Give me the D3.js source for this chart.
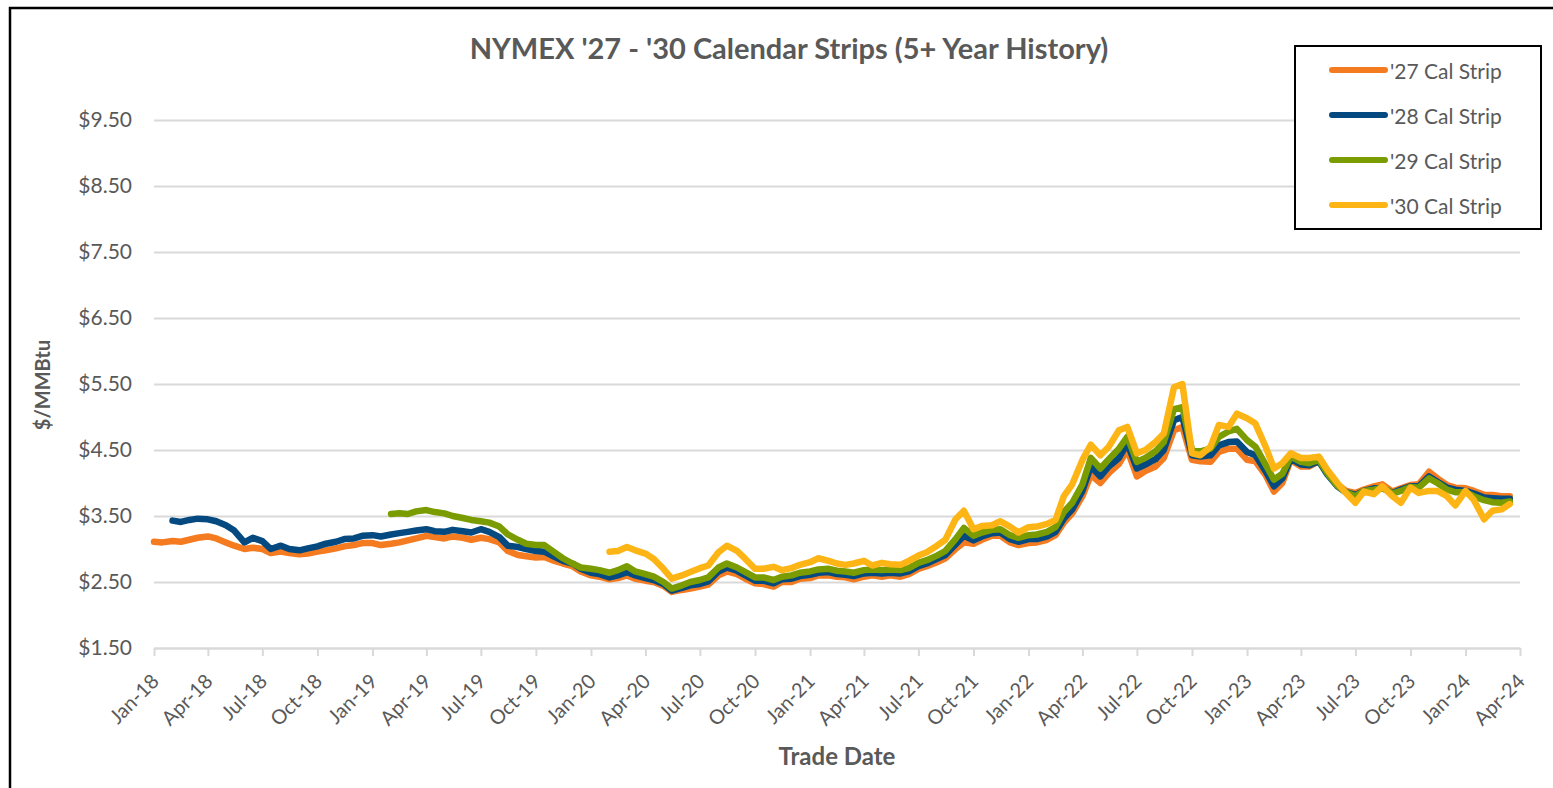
<!DOCTYPE html>
<html>
<head>
<meta charset="utf-8">
<script src="https://cdn.jsdelivr.net/npm/d3@7"></script>
<style>
  body { margin: 0; background: #fff; }
  svg { display: block; font-family: Lato, "Noto Sans", sans-serif; }
</style>
</head>
<body>
<svg id="chart" width="1553" height="788"></svg>
<script>
// tick values and labels
const yTicks = [1.5, 2.5, 3.5, 4.5, 5.5, 6.5, 7.5, 8.5, 9.5];
const xTicks = ["2018-01", "2018-04", "2018-07", "2018-10", "2019-01", "2019-04", "2019-07", "2019-10",
  "2020-01", "2020-04", "2020-07", "2020-10", "2021-01", "2021-04", "2021-07", "2021-10",
  "2022-01", "2022-04", "2022-07", "2022-10", "2023-01", "2023-04", "2023-07", "2023-10",
  "2024-01", "2024-04"];

// strip settles read off the chart, sampled on the 1st and 15th of each month
// each series starts at its own date and runs to mid Mar-24
const strip27Start = "2018-01-01";
const strip27 = [
  3.11, 3.10, 3.12, 3.11, 3.14, 3.17, 3.19, 3.16, 3.10, 3.05, 3.00, 3.02, 3.00, 2.94, 2.96, 2.94, 2.92, 2.93, 2.96, 2.98, 3.01, 3.04, 3.06, 3.09,
  3.09, 3.06, 3.08, 3.10, 3.13, 3.16, 3.20, 3.18, 3.16, 3.19, 3.17, 3.14, 3.17, 3.15, 3.10, 2.97, 2.91, 2.89, 2.87, 2.88, 2.82, 2.78, 2.74, 2.66,
  2.60, 2.58, 2.54, 2.56, 2.60, 2.55, 2.52, 2.50, 2.44, 2.35, 2.38, 2.40, 2.43, 2.46, 2.60, 2.66, 2.62, 2.55, 2.48, 2.47, 2.43, 2.50, 2.50, 2.55,
  2.56, 2.60, 2.60, 2.58, 2.57, 2.54, 2.58, 2.60, 2.58, 2.60, 2.58, 2.62, 2.70, 2.74, 2.80, 2.86, 3.00, 3.10, 3.08, 3.14, 3.20, 3.20, 3.10, 3.06,
  3.09, 3.10, 3.14, 3.21, 3.40, 3.54, 3.80, 4.12, 4.00, 4.15, 4.29, 4.50, 4.10, 4.18, 4.25, 4.38, 4.80, 4.85, 4.35, 4.33, 4.32, 4.47, 4.52, 4.52,
  4.35, 4.33, 4.12, 3.87, 4.00, 4.35, 4.25, 4.25, 4.33, 4.15, 3.98, 3.88, 3.85, 3.90, 3.95, 3.98, 3.87, 3.92, 3.97, 3.98, 4.17, 4.07, 3.97, 3.93,
  3.92, 3.88, 3.82, 3.82, 3.80, 3.80
];
const strip28Start = "2018-02-01";
const strip28 = [
  3.43, 3.41, 3.44, 3.46, 3.45, 3.42, 3.36, 3.28, 3.10, 3.17, 3.12, 3.00, 3.05, 3.00, 2.98, 3.01, 3.04, 3.08, 3.11, 3.15, 3.16, 3.20,
  3.21, 3.19, 3.22, 3.24, 3.26, 3.28, 3.30, 3.27, 3.26, 3.29, 3.27, 3.25, 3.30, 3.26, 3.18, 3.05, 3.03, 3.00, 2.97, 2.96, 2.88, 2.82, 2.78, 2.70,
  2.64, 2.62, 2.57, 2.60, 2.65, 2.60, 2.56, 2.53, 2.47, 2.37, 2.41, 2.45, 2.47, 2.51, 2.66, 2.72, 2.67, 2.60, 2.52, 2.52, 2.48, 2.54, 2.55, 2.59,
  2.61, 2.64, 2.65, 2.62, 2.61, 2.59, 2.63, 2.64, 2.63, 2.64, 2.63, 2.66, 2.74, 2.78, 2.85, 2.91, 3.07, 3.20, 3.13, 3.19, 3.24, 3.25, 3.15, 3.11,
  3.15, 3.15, 3.19, 3.26, 3.46, 3.60, 3.88, 4.25, 4.10, 4.25, 4.38, 4.60, 4.22, 4.28, 4.36, 4.50, 4.95, 5.00, 4.42, 4.40, 4.42, 4.57, 4.62, 4.63,
  4.47, 4.42, 4.18, 3.95, 4.07, 4.37, 4.28, 4.27, 4.33, 4.13, 3.95, 3.86, 3.82, 3.88, 3.92, 3.92, 3.85, 3.90, 3.95, 3.95, 4.10, 4.02, 3.93, 3.90,
  3.88, 3.84, 3.78, 3.77, 3.76, 3.76
];
const strip29Start = "2019-02-01";
const strip29 = [
  3.53, 3.54, 3.53, 3.57, 3.59, 3.56, 3.54, 3.50, 3.47, 3.44, 3.42, 3.40, 3.34, 3.22, 3.14, 3.08, 3.06, 3.06, 2.95, 2.86, 2.78, 2.72,
  2.70, 2.68, 2.64, 2.68, 2.74, 2.66, 2.62, 2.58, 2.50, 2.40, 2.45, 2.50, 2.53, 2.57, 2.72, 2.78, 2.72, 2.65, 2.57, 2.57, 2.53, 2.58, 2.60, 2.64,
  2.66, 2.69, 2.70, 2.67, 2.66, 2.64, 2.68, 2.69, 2.68, 2.69, 2.68, 2.71, 2.79, 2.83, 2.90, 2.97, 3.15, 3.32, 3.20, 3.25, 3.29, 3.30, 3.21, 3.17,
  3.21, 3.22, 3.26, 3.33, 3.56, 3.70, 3.98, 4.38, 4.22, 4.36, 4.52, 4.70, 4.32, 4.38, 4.48, 4.62, 5.12, 5.15, 4.50, 4.48, 4.52, 4.70, 4.78, 4.82,
  4.65, 4.55, 4.28, 4.05, 4.14, 4.40, 4.32, 4.30, 4.35, 4.15, 3.96, 3.86, 3.80, 3.88, 3.90, 3.93, 3.84, 3.88, 3.94, 3.93, 4.07, 4.00, 3.90, 3.86,
  3.86, 3.80, 3.74, 3.71, 3.70, 3.72
];
const strip30Start = "2020-02-01";
const strip30 = [
  2.96, 2.97, 3.03, 2.98, 2.93, 2.85, 2.70, 2.55, 2.60, 2.65, 2.71, 2.75, 2.95, 3.05, 2.97, 2.85, 2.70, 2.70, 2.73, 2.68, 2.71, 2.76,
  2.80, 2.86, 2.82, 2.78, 2.76, 2.78, 2.82, 2.75, 2.79, 2.77, 2.76, 2.82, 2.90, 2.95, 3.05, 3.14, 3.45, 3.58, 3.30, 3.35, 3.36, 3.42, 3.34, 3.25,
  3.33, 3.34, 3.38, 3.44, 3.80, 3.98, 4.35, 4.58, 4.42, 4.55, 4.80, 4.85, 4.45, 4.50, 4.62, 4.75, 5.45, 5.50, 4.45, 4.42, 4.55, 4.88, 4.85, 5.05,
  4.98, 4.90, 4.55, 4.22, 4.30, 4.45, 4.38, 4.38, 4.40, 4.20, 4.00, 3.85, 3.70, 3.87, 3.83, 3.95, 3.80, 3.70, 3.93, 3.85, 3.88, 3.88, 3.80, 3.66,
  3.88, 3.74, 3.45, 3.58, 3.60, 3.68
];

const seriesNames = ["'27 Cal Strip", "'28 Cal Strip", "'29 Cal Strip", "'30 Cal Strip"];
const seriesColors = ["#f47b20", "#044a80", "#7a9c00", "#fdb515"];

// sampling grid: 1st and 15th of every month
const sampleDates = d3.timeMonth.range(new Date(2018, 0, 1), new Date(2024, 3, 1))
  .flatMap(m => [m, d3.timeDay.offset(m, 14)]);
const parseDay = d3.timeParse("%Y-%m-%d");
const parseMonth = d3.timeParse("%Y-%m");

function toPoints(start, values) {
  const i0 = sampleDates.findIndex(d => +d === +parseDay(start));
  return values.map((v, i) => ({ date: sampleDates[i0 + i], value: v }));
}

const series = [
  toPoints(strip27Start, strip27),
  toPoints(strip28Start, strip28),
  toPoints(strip29Start, strip29),
  toPoints(strip30Start, strip30)
];

// layout
const plot = { left: 154, right: 1520, top: 120, bottom: 648 };
const textColor = "#595959";
const gridColor = "#d9d9d9";

const svg = d3.select("#chart");

// outer frame
svg.append("rect")
  .attr("x", 10).attr("y", 8)
  .attr("width", 1600).attr("height", 820)
  .attr("fill", "#fff")
  .attr("stroke", "#000")
  .attr("stroke-width", 2.5);

const x = d3.scaleTime()
  .domain([parseMonth(xTicks[0]), parseMonth(xTicks[xTicks.length - 1])])
  .range([plot.left, plot.right]);
const y = d3.scaleLinear()
  .domain([yTicks[0], yTicks[yTicks.length - 1]])
  .range([plot.bottom, plot.top]);

// y axis with gridlines
const yAxis = svg.append("g")
  .attr("transform", `translate(${plot.left},0)`)
  .call(d3.axisLeft(y)
    .tickValues(yTicks)
    .tickSize(-(plot.right - plot.left))
    .tickPadding(22)
    .tickFormat(d => "$" + d.toFixed(2)));
yAxis.select(".domain").remove();
yAxis.selectAll("line").attr("stroke", gridColor).attr("stroke-width", 2);
yAxis.selectAll("text")
  .attr("fill", textColor)
  .style("font-family", "Lato, 'Noto Sans', sans-serif")
  .style("font-size", "21px");

// x axis
const xAxis = svg.append("g")
  .attr("transform", `translate(0,${plot.bottom})`)
  .call(d3.axisBottom(x)
    .tickValues(xTicks.map(parseMonth))
    .tickSize(8)
    .tickSizeOuter(0)
    .tickFormat(d3.timeFormat("%b-%y")));
xAxis.select(".domain").attr("stroke", gridColor).attr("stroke-width", 2);
xAxis.selectAll("line").attr("stroke", gridColor).attr("stroke-width", 2);
xAxis.selectAll("text")
  .attr("fill", textColor)
  .attr("x", 0).attr("y", 0).attr("dy", null)
  .attr("text-anchor", "end")
  .attr("dominant-baseline", "central")
  .attr("transform", "translate(0,29) rotate(-45)")
  .style("font-family", "Lato, 'Noto Sans', sans-serif")
  .style("font-size", "20px");

// series lines, '30 strip drawn last
const line = d3.line()
  .x(d => x(d.date))
  .y(d => y(d.value));

svg.append("g")
  .selectAll("path")
  .data(series)
  .join("path")
  .attr("fill", "none")
  .attr("stroke", (d, i) => seriesColors[i])
  .attr("stroke-width", 6.5)
  .attr("stroke-linejoin", "round")
  .attr("stroke-linecap", "round")
  .attr("d", line);

// title
svg.append("text")
  .attr("x", 789)
  .attr("y", 59)
  .attr("text-anchor", "middle")
  .attr("fill", textColor)
  .style("font-size", "29px")
  .style("font-weight", "bold")
  .text("NYMEX '27 - '30 Calendar Strips (5+ Year History)");

// axis titles
svg.append("text")
  .attr("transform", "translate(42,385) rotate(-90)")
  .attr("text-anchor", "middle")
  .attr("dominant-baseline", "central")
  .attr("fill", textColor)
  .style("font-size", "20px")
  .style("font-weight", "bold")
  .text("$/MMBtu");

svg.append("text")
  .attr("x", 837)
  .attr("y", 765)
  .attr("text-anchor", "middle")
  .attr("fill", textColor)
  .style("font-size", "24px")
  .style("font-weight", "bold")
  .text("Trade Date");

// legend
const legend = svg.append("g");
legend.append("rect")
  .attr("x", 1295).attr("y", 46)
  .attr("width", 246).attr("height", 183)
  .attr("fill", "#fff")
  .attr("stroke", "#000")
  .attr("stroke-width", 2);

const items = legend.selectAll("g.item")
  .data(seriesNames)
  .join("g")
  .attr("class", "item")
  .attr("transform", (d, i) => `translate(0,${70 + i * 45})`);
items.append("line")
  .attr("x1", 1332).attr("x2", 1385)
  .attr("stroke", (d, i) => seriesColors[i])
  .attr("stroke-width", 6)
  .attr("stroke-linecap", "round");
items.append("text")
  .attr("x", 1390)
  .attr("dominant-baseline", "central")
  .attr("fill", textColor)
  .style("font-size", "21px")
  .text(d => d);
</script>
</body>
</html>
